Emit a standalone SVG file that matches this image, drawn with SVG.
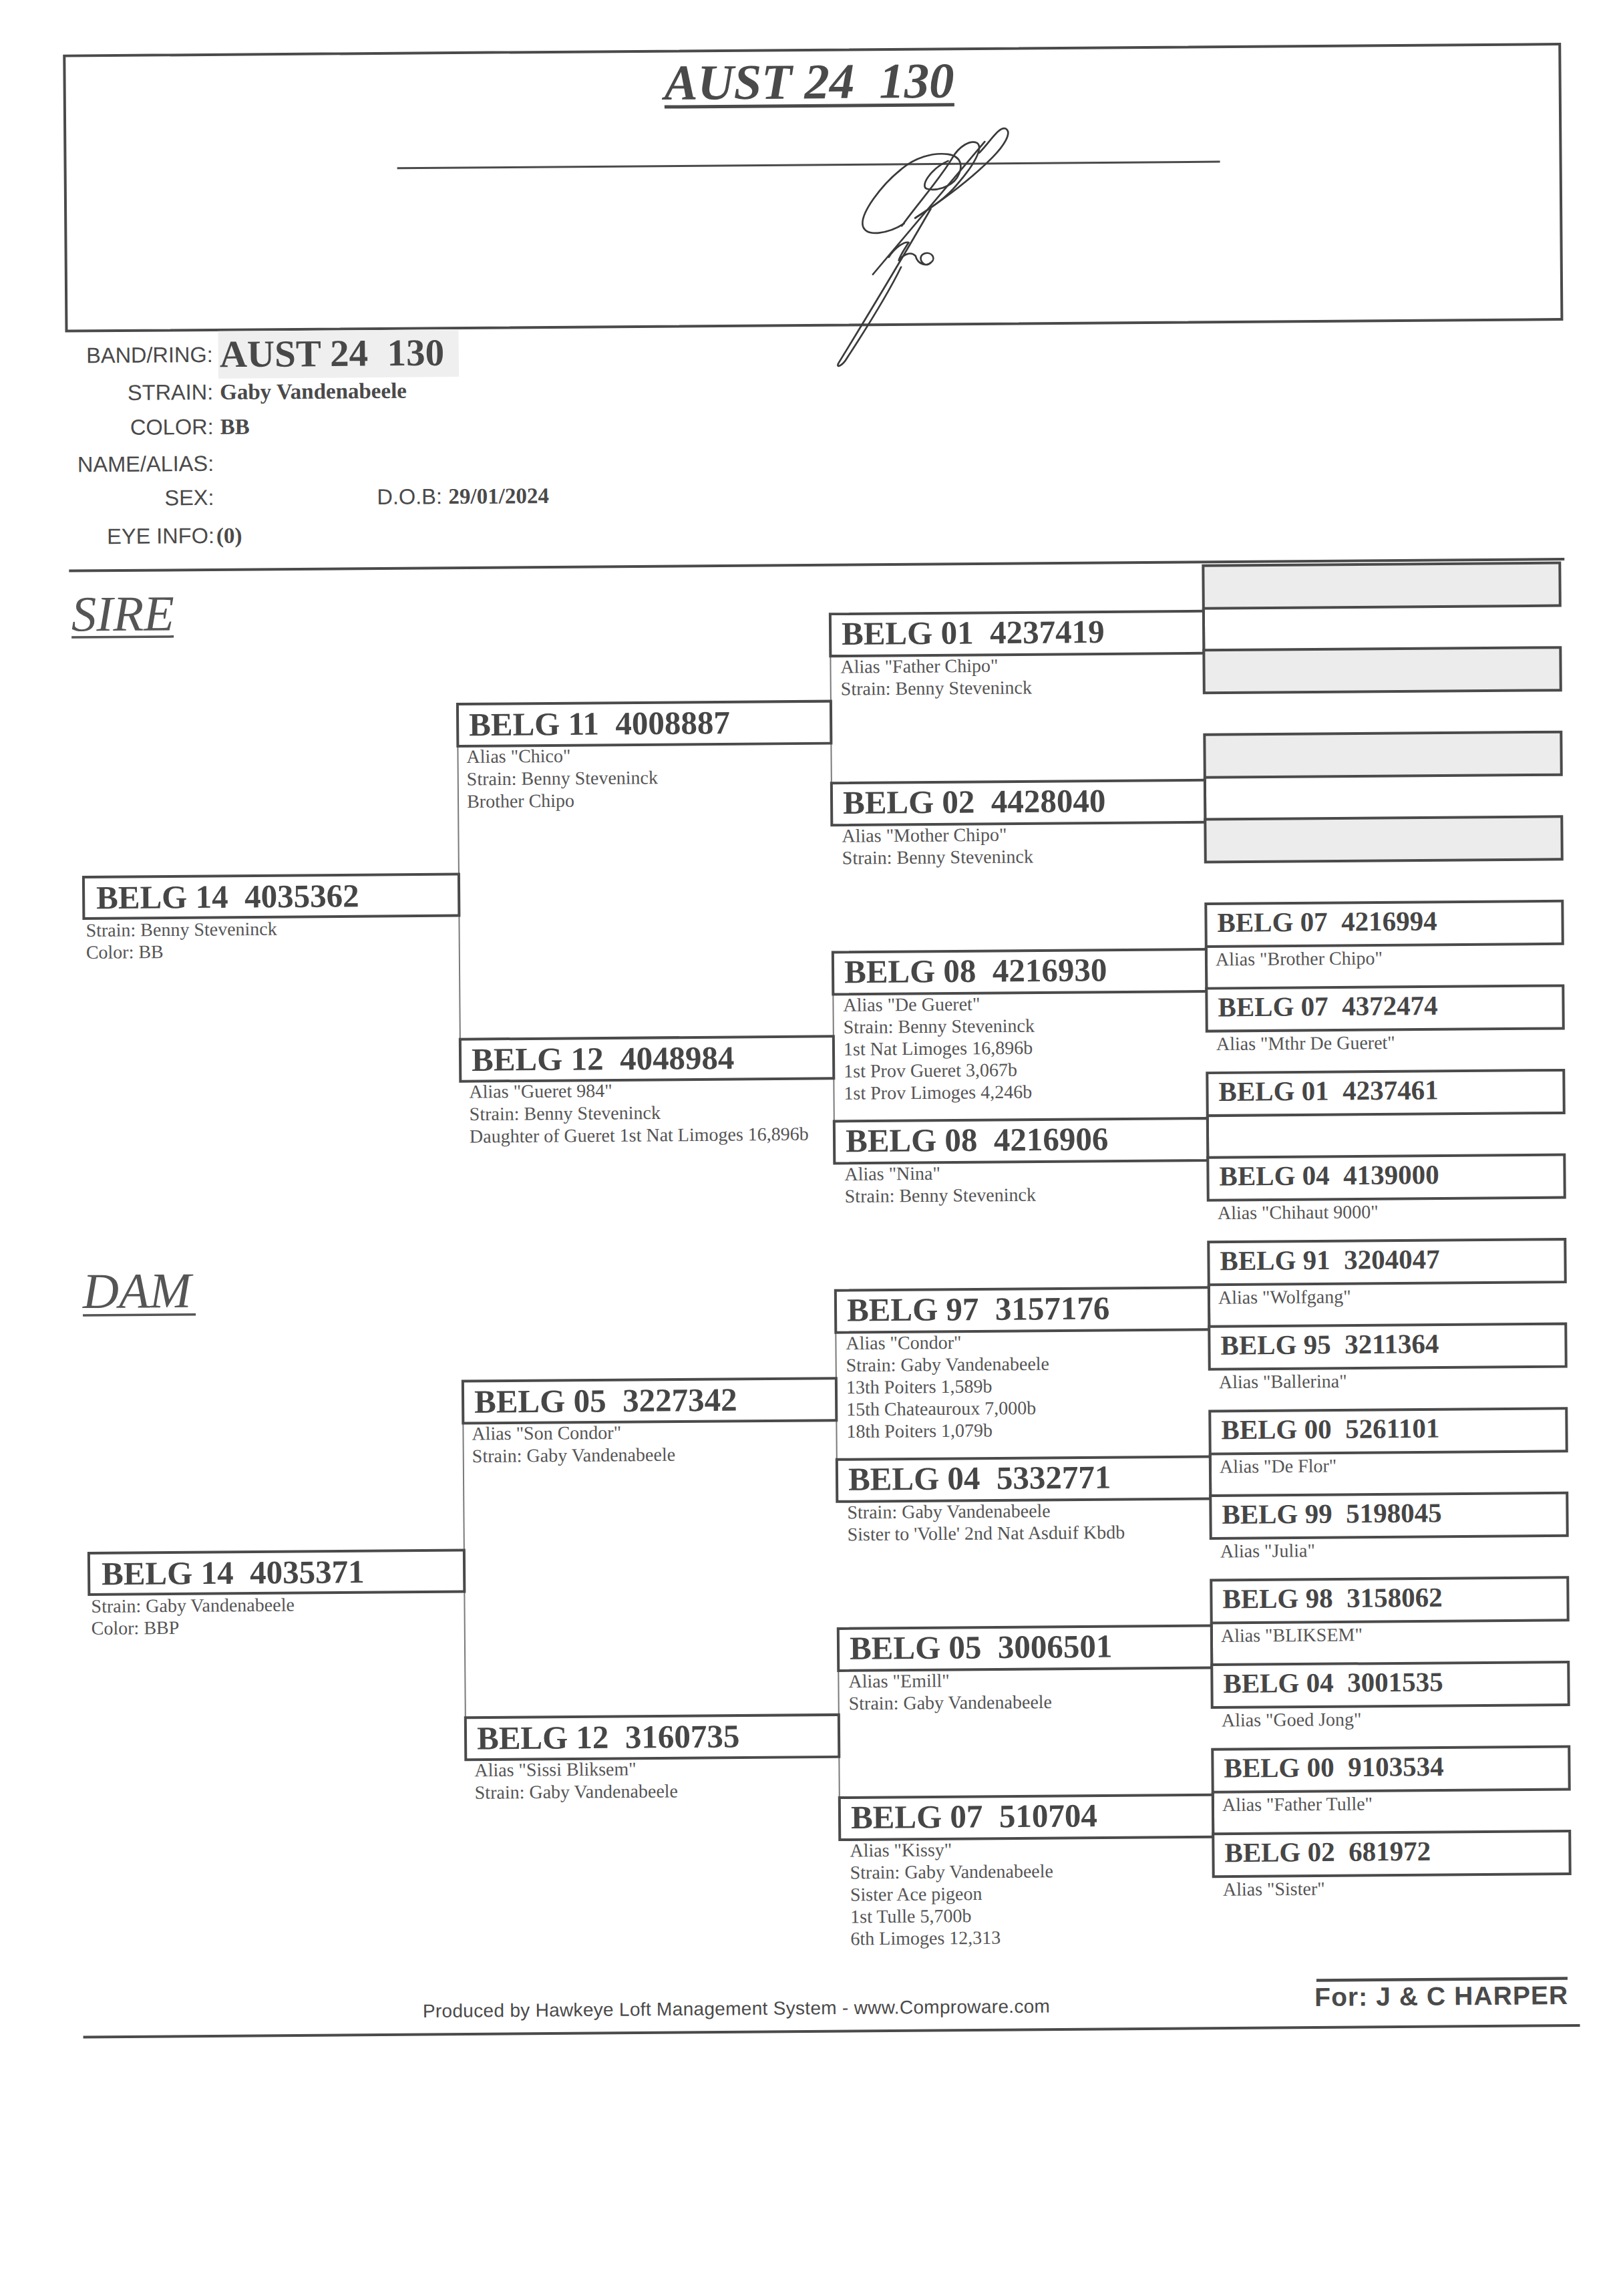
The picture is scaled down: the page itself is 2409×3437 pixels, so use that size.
<svg xmlns="http://www.w3.org/2000/svg" width="2409" height="3437" viewBox="0 0 2409 3437">
<style>
.bx{fill:#fff;stroke:#4a4a4a;stroke-width:4}
.gb{fill:#ececec;stroke:#4a4a4a;stroke-width:4}
.ln{stroke:#4a4a4a;stroke-width:4;fill:none}
.cn{stroke:#7a7a7a;stroke-width:2;fill:none}
.ck{stroke:#4a4a4a;stroke-width:4;fill:none}
.id{font-family:"Liberation Serif","Times New Roman",serif;font-weight:bold;font-size:49px;fill:#464646}
.id4{font-family:"Liberation Serif","Times New Roman",serif;font-weight:bold;font-size:41px;fill:#464646}
.dt{font-family:"Liberation Serif","Times New Roman",serif;font-size:28px;fill:#555}
.lb{font-family:"Liberation Sans",Arial,sans-serif;font-size:32.5px;fill:#4a4a4a;text-anchor:end}
.vl{font-family:"Liberation Serif","Times New Roman",serif;font-weight:bold;font-size:33px;fill:#4a4a4a}
.sec{font-family:"Liberation Serif","Times New Roman",serif;font-style:italic;font-size:75px;fill:#555}
.sig{fill:none;stroke:#3a3a3a;stroke-width:8;stroke-linecap:round;stroke-linejoin:round}
</style>
<rect x="0" y="0" width="2409" height="3437" fill="#fff"/>
<g transform="rotate(-0.45 1200 1700)">
<g id="header">
<rect class="ln" x="109" y="75" width="2239" height="412"/>
<text x="1007" y="147.5" textLength="434" font-family="Liberation Serif, Times New Roman, serif" font-weight="bold" font-style="italic" font-size="75" fill="#4a4a4a">AUST 24&#160; 130</text>
<line x1="1007" y1="158.5" x2="1441" y2="158.5" stroke="#4a4a4a" stroke-width="5"/>
<line x1="606" y1="247" x2="1838" y2="247" stroke="#4a4a4a" stroke-width="3"/>
<g transform="translate(1231 171) scale(0.3333)">
<path class="sig" d="M400 495 C330 540 230 555 215 505 C200 450 300 320 390 250 C450 200 530 175 600 185 C660 195 670 240 640 290 C610 335 540 350 505 340 C470 330 520 250 600 215"/>
<path class="sig" d="M390 505 C450 420 560 300 620 200 C650 150 700 120 730 135 C760 155 720 230 640 320 C590 380 530 420 450 470"/>
<path class="sig" d="M450 470 C560 400 700 300 800 200 C850 150 890 90 860 72 C830 60 790 130 740 180"/>
<path class="sig" d="M765 130 L258 722"/>
<path class="sig" d="M520 430 C420 600 250 880 100 1120 C90 1140 110 1135 130 1110 C230 960 330 800 385 690"/>
<path class="sig" d="M330 645 C360 600 400 575 420 580 C400 610 380 640 375 660 C400 630 430 620 450 640 C460 680 500 690 520 670 C545 650 520 620 490 630 C465 640 470 670 495 680"/>
</g>
</g>
<g id="info">
<rect x="336" y="489" width="360" height="71" fill="#efefef"/>
<text class="lb" x="328" y="535">BAND/RING:</text>
<text x="338" y="542.5" font-family="Liberation Serif, Times New Roman, serif" font-weight="bold" font-size="57" fill="#484848">AUST 24&#160; 130</text>
<text class="lb" x="328" y="591">STRAIN:</text>
<text class="vl" x="338" y="591">Gaby Vandenabeele</text>
<text class="lb" x="328" y="643">COLOR:</text>
<text class="vl" x="338" y="643">BB</text>
<text class="lb" x="328" y="698">NAME/ALIAS:</text>
<text class="lb" x="328" y="749">SEX:</text>
<text class="lb" x="572" y="750" style="text-anchor:start">D.O.B:</text>
<text class="vl" x="679" y="750">29/01/2024</text>
<text class="lb" x="328" y="806">EYE INFO:</text>
<text class="vl" x="331" y="806">(0)</text>
</g>
<line class="ln" x1="110" y1="846" x2="2349" y2="846"/>
<g id="sire-label">
<text class="sec" x="113" y="936">SIRE</text>
<line x1="113" y1="945.5" x2="266" y2="945.5" stroke="#555" stroke-width="3.5"/>
</g>
<g id="dam-label">
<text class="sec" x="122" y="1949.6" font-size="77">DAM</text>
<line x1="122" y1="1960.6" x2="291" y2="1960.6" stroke="#555" stroke-width="3.5"/>
</g>
<g id="connectors">
<line class="cn" x1="690" y1="1113" x2="690" y2="1551.7"/>
<line class="cn" x1="690" y1="2126.6" x2="690" y2="2567.3"/>
<line class="cn" x1="1249" y1="982.5" x2="1249" y2="1172.6"/>
<line class="cn" x1="1249" y1="1488.8" x2="1249" y2="1678.9"/>
<line class="cn" x1="1249" y1="1995.1" x2="1249" y2="2185.2"/>
<line class="cn" x1="1249" y1="2501.3" x2="1249" y2="2691.5"/>
<line class="ck" x1="1808" y1="915.5" x2="1808" y2="978.1"/>
<line class="ck" x1="1808" y1="1168.6" x2="1808" y2="1231.2"/>
<line class="ck" x1="1808" y1="1421.8" x2="1808" y2="1484.4"/>
<line class="ck" x1="1808" y1="1674.9" x2="1808" y2="1737.5"/>
<line class="ck" x1="1808" y1="1928.1" x2="1808" y2="1990.6"/>
<line class="ck" x1="1808" y1="2181.2" x2="1808" y2="2243.8"/>
<line class="ck" x1="1808" y1="2434.3" x2="1808" y2="2496.9"/>
<line class="ck" x1="1808" y1="2687.5" x2="1808" y2="2750.1"/>
</g>
<g id="n-sire">
<rect class="bx" x="128" y="1304.5" width="562" height="62"/>
<text class="id" x="147" y="1352">BELG 14&#160; 4035362</text>
<text class="dt" x="131" y="1393.5">Strain: Benny Steveninck</text>
<text class="dt" x="131" y="1426.5">Color: BB</text>
</g>
<g id="n-dam">
<rect class="bx" x="128" y="2316.5" width="562" height="62"/>
<text class="id" x="147" y="2364">BELG 14&#160; 4035371</text>
<text class="dt" x="131" y="2405.5">Strain: Gaby Vandenabeele</text>
<text class="dt" x="131" y="2438.5">Color: BBP</text>
</g>
<g id="n-ss">
<rect class="bx" x="690" y="1050" width="559" height="63"/>
<text class="id" x="707" y="1097.3">BELG 11&#160; 4008887</text>
<text class="dt" x="703" y="1138">Alias "Chico"</text>
<text class="dt" x="703" y="1171.5">Strain: Benny Steveninck</text>
<text class="dt" x="703" y="1205">Brother Chipo</text>
</g>
<g id="n-sd">
<rect class="bx" x="690" y="1551.7" width="559" height="63"/>
<text class="id" x="707" y="1599">BELG 12&#160; 4048984</text>
<text class="dt" x="703" y="1639.7">Alias "Gueret 984"</text>
<text class="dt" x="703" y="1673.2">Strain: Benny Steveninck</text>
<text class="dt" x="703" y="1706.7">Daughter of Gueret 1st Nat Limoges 16,896b</text>
</g>
<g id="n-ds">
<rect class="bx" x="690" y="2063.6" width="559" height="63"/>
<text class="id" x="707" y="2110.9">BELG 05&#160; 3227342</text>
<text class="dt" x="703" y="2151.6">Alias "Son Condor"</text>
<text class="dt" x="703" y="2185.1">Strain: Gaby Vandenabeele</text>
</g>
<g id="n-dd">
<rect class="bx" x="690" y="2567.3" width="559" height="63"/>
<text class="id" x="707" y="2614.6">BELG 12&#160; 3160735</text>
<text class="dt" x="703" y="2655.3">Alias "Sissi Bliksem"</text>
<text class="dt" x="703" y="2688.8">Strain: Gaby Vandenabeele</text>
</g>
<g id="n-sss">
<rect class="bx" x="1249" y="919.5" width="559" height="63"/>
<text class="id" x="1266" y="965.5">BELG 01&#160; 4237419</text>
<text class="dt" x="1264" y="1008">Alias "Father Chipo"</text>
<text class="dt" x="1264" y="1041">Strain: Benny Steveninck</text>
</g>
<g id="n-ssd">
<rect class="bx" x="1249" y="1172.6" width="559" height="63"/>
<text class="id" x="1266" y="1218.6">BELG 02&#160; 4428040</text>
<text class="dt" x="1264" y="1261.1">Alias "Mother Chipo"</text>
<text class="dt" x="1264" y="1294.1">Strain: Benny Steveninck</text>
</g>
<g id="n-sds">
<rect class="bx" x="1249" y="1425.8" width="559" height="63"/>
<text class="id" x="1266" y="1471.8">BELG 08&#160; 4216930</text>
<text class="dt" x="1264" y="1514.3">Alias "De Gueret"</text>
<text class="dt" x="1264" y="1547.3">Strain: Benny Steveninck</text>
<text class="dt" x="1264" y="1580.3">1st Nat Limoges 16,896b</text>
<text class="dt" x="1264" y="1613.3">1st Prov Gueret 3,067b</text>
<text class="dt" x="1264" y="1646.3">1st Prov Limoges 4,246b</text>
</g>
<g id="n-sdd">
<rect class="bx" x="1249" y="1678.9" width="559" height="63"/>
<text class="id" x="1266" y="1724.9">BELG 08&#160; 4216906</text>
<text class="dt" x="1264" y="1767.4">Alias "Nina"</text>
<text class="dt" x="1264" y="1800.4">Strain: Benny Steveninck</text>
</g>
<g id="n-dss">
<rect class="bx" x="1249" y="1932.1" width="559" height="63"/>
<text class="id" x="1266" y="1978.1">BELG 97&#160; 3157176</text>
<text class="dt" x="1264" y="2020.6">Alias "Condor"</text>
<text class="dt" x="1264" y="2053.6">Strain: Gaby Vandenabeele</text>
<text class="dt" x="1264" y="2086.6">13th Poiters 1,589b</text>
<text class="dt" x="1264" y="2119.6">15th Chateauroux 7,000b</text>
<text class="dt" x="1264" y="2152.6">18th Poiters 1,079b</text>
</g>
<g id="n-dsd">
<rect class="bx" x="1249" y="2185.2" width="559" height="63"/>
<text class="id" x="1266" y="2231.2">BELG 04&#160; 5332771</text>
<text class="dt" x="1264" y="2273.7">Strain: Gaby Vandenabeele</text>
<text class="dt" x="1264" y="2306.7">Sister to 'Volle' 2nd Nat Asduif Kbdb</text>
</g>
<g id="n-dds">
<rect class="bx" x="1249" y="2438.3" width="559" height="63"/>
<text class="id" x="1266" y="2484.3">BELG 05&#160; 3006501</text>
<text class="dt" x="1264" y="2526.8">Alias "Emill"</text>
<text class="dt" x="1264" y="2559.8">Strain: Gaby Vandenabeele</text>
</g>
<g id="n-ddd">
<rect class="bx" x="1249" y="2691.5" width="559" height="63"/>
<text class="id" x="1266" y="2737.5">BELG 07&#160; 510704</text>
<text class="dt" x="1264" y="2780">Alias "Kissy"</text>
<text class="dt" x="1264" y="2813">Strain: Gaby Vandenabeele</text>
<text class="dt" x="1264" y="2846">Sister Ace pigeon</text>
<text class="dt" x="1264" y="2879">1st Tulle 5,700b</text>
<text class="dt" x="1264" y="2912">6th Limoges 12,313</text>
</g>
<g id="g4-0"><rect class="gb" x="1808" y="851.5" width="534" height="64"/></g>
<g id="g4-1"><rect class="gb" x="1808" y="978.1" width="534" height="64"/></g>
<g id="g4-2"><rect class="gb" x="1808" y="1104.6" width="534" height="64"/></g>
<g id="g4-3"><rect class="gb" x="1808" y="1231.2" width="534" height="64"/></g>
<g id="g4-4"><rect class="bx" x="1808" y="1357.8" width="534" height="64"/><text class="id4" x="1825" y="1399.8">BELG 07&#160; 4216994</text><text class="dt" x="1822" y="1450.3">Alias "Brother Chipo"</text></g>
<g id="g4-5"><rect class="bx" x="1808" y="1484.4" width="534" height="64"/><text class="id4" x="1825" y="1526.4">BELG 07&#160; 4372474</text><text class="dt" x="1822" y="1576.9">Alias "Mthr De Gueret"</text></g>
<g id="g4-6"><rect class="bx" x="1808" y="1610.9" width="534" height="64"/><text class="id4" x="1825" y="1652.9">BELG 01&#160; 4237461</text></g>
<g id="g4-7"><rect class="bx" x="1808" y="1737.5" width="534" height="64"/><text class="id4" x="1825" y="1779.5">BELG 04&#160; 4139000</text><text class="dt" x="1822" y="1830">Alias "Chihaut 9000"</text></g>
<g id="g4-8"><rect class="bx" x="1808" y="1864.1" width="534" height="64"/><text class="id4" x="1825" y="1906.1">BELG 91&#160; 3204047</text><text class="dt" x="1822" y="1956.6">Alias "Wolfgang"</text></g>
<g id="g4-9"><rect class="bx" x="1808" y="1990.6" width="534" height="64"/><text class="id4" x="1825" y="2032.6">BELG 95&#160; 3211364</text><text class="dt" x="1822" y="2083.1">Alias "Ballerina"</text></g>
<g id="g4-10"><rect class="bx" x="1808" y="2117.2" width="534" height="64"/><text class="id4" x="1825" y="2159.2">BELG 00&#160; 5261101</text><text class="dt" x="1822" y="2209.7">Alias "De Flor"</text></g>
<g id="g4-11"><rect class="bx" x="1808" y="2243.8" width="534" height="64"/><text class="id4" x="1825" y="2285.8">BELG 99&#160; 5198045</text><text class="dt" x="1822" y="2336.3">Alias "Julia"</text></g>
<g id="g4-12"><rect class="bx" x="1808" y="2370.3" width="534" height="64"/><text class="id4" x="1825" y="2412.3">BELG 98&#160; 3158062</text><text class="dt" x="1822" y="2462.8">Alias "BLIKSEM"</text></g>
<g id="g4-13"><rect class="bx" x="1808" y="2496.9" width="534" height="64"/><text class="id4" x="1825" y="2538.9">BELG 04&#160; 3001535</text><text class="dt" x="1822" y="2589.4">Alias "Goed Jong"</text></g>
<g id="g4-14"><rect class="bx" x="1808" y="2623.5" width="534" height="64"/><text class="id4" x="1825" y="2665.5">BELG 00&#160; 9103534</text><text class="dt" x="1822" y="2716">Alias "Father Tulle"</text></g>
<g id="g4-15"><rect class="bx" x="1808" y="2750.1" width="534" height="64"/><text class="id4" x="1825" y="2792.1">BELG 02&#160; 681972</text><text class="dt" x="1822" y="2842.6">Alias "Sister"</text></g>
<g id="footer">
<text x="622.6" y="3015.5" textLength="939" font-family="Liberation Sans, Arial, sans-serif" font-size="28" fill="#4a4a4a">Produced by Hawkeye Loft Management System - www.Comproware.com</text>
<line x1="1961" y1="2970.5" x2="2337" y2="2970.5" stroke="#4a4a4a" stroke-width="4.5"/>
<text x="1958" y="3009" textLength="379" font-family="Liberation Sans, Arial, sans-serif" font-weight="bold" font-size="39" fill="#4a4a4a">For: J &amp; C HARPER</text>
<line class="ln" x1="114" y1="3041" x2="2355" y2="3041"/>
</g>
</g>
</svg>
